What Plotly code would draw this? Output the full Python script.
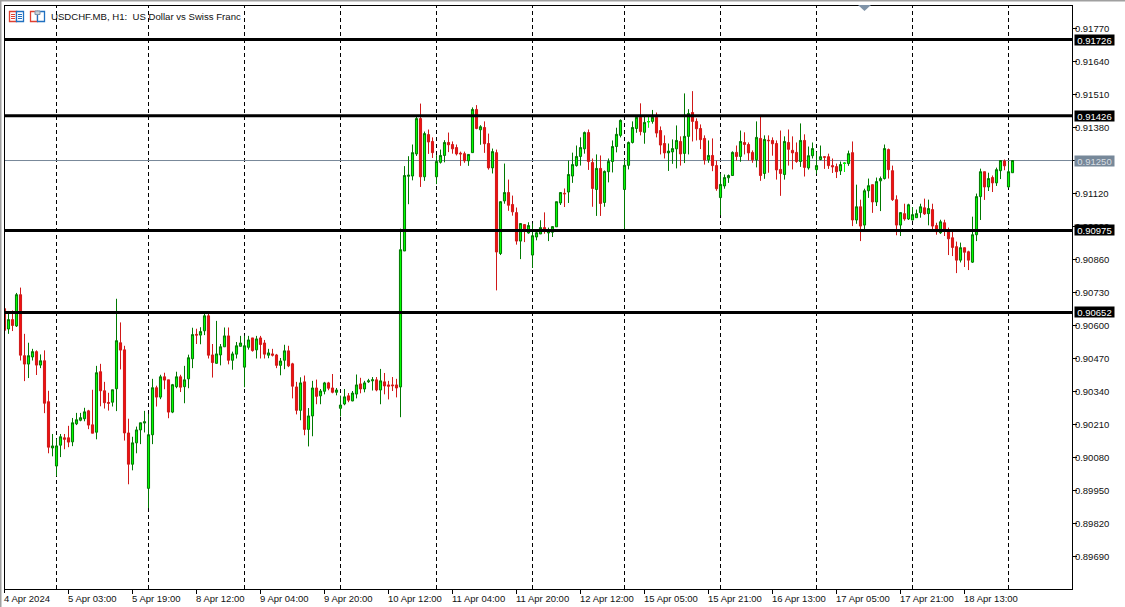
import plotly.graph_objects as go

# Prices are stored in points (1 point = 0.00001)
opens = [
90667,90587,90624,90599,90722,90482,90449,90477,90498,90445,
90462,90301,90119,90048,90130,90159,90159,90143,90214,90228,
90234,90265,90210,90181,90419,90344,90298,90299,90352,90533,
90505,90178,90055,90139,90190,90217,89960,90171,90356,90319,
90399,90387,90260,90360,90399,90360,90391,90470,90566,90563,
90580,90639,90485,90452,90485,90517,90560,90464,90488,90519,
90437,90515,90552,90505,90552,90532,90484,90489,90485,90444,
90464,90501,90450,90359,90267,90379,90192,90245,90355,90324,
90342,90375,90355,90338,90275,90292,90324,90304,90331,90371,
90351,90379,90383,90387,90347,90379,90367,90367,90367,90359,
90894,91188,91189,91276,91415,91186,91352,91325,91186,91243,
91270,91321,91313,91301,91279,91277,91249,91281,91451,91371,
91380,91317,91221,91281,90884,91091,91124,91077,91045,90933,
90998,90965,90878,90949,90961,90986,90965,90968,90989,91083,
91121,91126,91189,91230,91266,91296,91360,91242,91136,91219,
91085,91206,91246,91305,91349,91136,91231,91321,91376,91420,
91361,91403,91404,91420,91368,91317,91280,91284,91296,91325,
91278,91345,91439,91404,91376,91337,91253,91270,91230,91104,
91150,91182,91191,91282,91266,91321,91313,91282,91253,91337,
91199,91330,91329,91317,91215,91195,91321,91290,91282,91246,
91329,91221,91269,91214,91254,91265,91265,91230,91226,91209,
91239,91238,91281,91016,91068,90996,91131,91155,91087,91170,
91179,91293,91210,91096,90996,91041,91020,91016,91025,91045,
91064,91041,91057,90994,90966,91005,90970,90946,90911,90858,
90907,90891,90850,90958,91108,91206,91146,91183,91162,91210,
91248,91146,91202]
highs = [
90667,90658,90660,90729,90750,90568,90533,90509,90503,90487,
90503,90344,90174,90155,90174,90174,90206,90237,90257,90257,
90277,90269,90348,90442,90450,90379,90336,90348,90706,90613,
90521,90234,90163,90203,90218,90265,90253,90391,90364,90407,
90415,90387,90371,90419,90407,90442,90486,90592,90588,90594,
90647,90647,90528,90619,90528,90593,90593,90498,90536,90560,
90561,90560,90552,90560,90560,90544,90509,90509,90489,90473,
90525,90521,90454,90379,90397,90404,90276,90383,90388,90351,
90379,90379,90410,90355,90325,90351,90335,90343,90408,90395,
90383,90391,90398,90398,90430,90414,90383,90398,90391,90982,
91228,91267,91313,91422,91474,91364,91372,91341,91271,91293,
91330,91360,91325,91313,91285,91285,91275,91459,91468,91389,
91404,91356,91297,91293,91090,91238,91175,91112,91065,91002,
91000,91007,91002,90975,91015,91046,90986,90991,91088,91124,
91140,91250,91281,91309,91341,91364,91372,91258,91274,91270,
91211,91258,91329,91379,91412,91250,91325,91404,91429,91475,
91424,91420,91449,91439,91384,91349,91317,91333,91388,91345,
91514,91452,91523,91416,91392,91349,91329,91337,91250,91199,
91195,91195,91286,91309,91368,91361,91321,91290,91404,91422,
91349,91349,91341,91329,91368,91345,91372,91345,91321,91396,
91353,91305,91321,91284,91309,91265,91277,91258,91238,91246,
91242,91289,91325,91155,91096,91139,91179,91155,91183,91187,
91313,91297,91230,91113,91045,91080,91080,91067,91057,91080,
91100,91096,91080,91005,91017,91017,90986,90970,90931,90927,
90907,90895,91029,91120,91218,91206,91202,91191,91222,91250,
91254,91246,91250]
lows = [
90582,90568,90579,90595,90463,90382,90394,90463,90406,90433,
90256,90098,90086,90008,90083,90114,90122,90126,90209,90224,
90224,90193,90177,90153,90283,90274,90266,90282,90264,90428,
90148,89976,90031,90098,90134,90180,89882,90134,90282,90311,
90350,90236,90256,90354,90339,90295,90354,90433,90528,90527,
90563,90471,90396,90451,90444,90517,90448,90427,90471,90519,
90358,90506,90498,90471,90471,90471,90472,90479,90433,90405,
90429,90437,90314,90251,90228,90169,90125,90165,90291,90291,
90330,90346,90334,90326,90243,90287,90299,90303,90314,90334,
90338,90375,90345,90342,90291,90330,90310,90343,90318,90240,
90894,91078,91172,91268,91146,91170,91276,91260,91157,91238,
91243,91283,91277,91270,91229,91241,91229,91281,91373,91312,
91280,91214,91199,90739,90878,91080,91052,91033,90919,90862,
90929,90962,90827,90936,90961,90962,90933,90949,90989,91075,
91067,91083,91162,91226,91230,91277,91213,91068,91032,91032,
91068,91164,91203,91282,91341,90982,91215,91317,91359,91349,
91316,91380,91395,91341,91274,91258,91209,91237,91219,91230,
91240,91274,91325,91329,91295,91234,91241,91208,91131,91035,
91139,91162,91191,91250,91245,91274,91250,91241,91223,91170,
91178,91202,91269,91175,91111,91175,91230,91215,91241,91225,
91187,91214,91258,91198,91251,91217,91217,91201,91181,91193,
91205,91229,90992,91001,90933,90978,91103,91044,91071,91051,
91175,91179,91091,90956,90953,91013,91016,91015,91025,91025,
91036,90995,90978,90958,90961,90953,90878,90874,90807,90849,
90831,90819,90847,90933,91016,91095,91130,91126,91150,91177,
91212,91143,91201]
closes = [
90582,90624,90601,90722,90484,90449,90482,90498,90445,90462,
90295,90122,90127,90127,90163,90153,90142,90218,90230,90238,
90261,90209,90177,90415,90344,90297,90295,90348,90541,90504,
90178,90055,90139,90190,90218,90222,90171,90356,90319,90399,
90386,90260,90368,90399,90358,90387,90474,90565,90563,90577,
90639,90484,90455,90489,90517,90560,90464,90489,90521,90532,
90521,90544,90502,90548,90526,90488,90493,90484,90444,90461,
90501,90442,90362,90267,90375,90192,90245,90355,90322,90343,
90375,90354,90338,90347,90288,90320,90307,90335,90367,90351,
90375,90383,90387,90347,90383,90363,90362,90364,90355,90899,
91191,91192,91281,91415,91186,91356,91323,91281,91246,91270,
91321,91312,91296,91276,91276,91249,91274,91451,91376,91383,
91316,91221,91285,90890,91088,91124,91074,91048,90933,91002,
90975,90994,90954,90966,90986,90974,90974,90990,91088,91124,
91119,91195,91234,91266,91301,91360,91246,91140,91219,91081,
91207,91246,91305,91353,91408,91231,91321,91380,91420,91364,
91400,91403,91420,91358,91311,91280,91287,91297,91329,91276,
91345,91435,91404,91375,91332,91252,91270,91230,91139,91156,
91183,91191,91282,91266,91325,91313,91280,91253,91341,91191,
91333,91328,91316,91213,91199,91325,91294,91280,91246,91329,
91223,91269,91297,91230,91265,91263,91230,91225,91206,91234,
91239,91277,91016,91068,90992,91131,91151,91087,91167,91179,
91297,91214,91096,90996,91045,91020,91076,91037,91041,91068,
91040,91061,90992,90970,91009,90974,90942,90908,90858,90907,
90889,90858,90958,91108,91206,91146,91179,91162,91214,91250,
91229,91206,91250]

flat_bars = [161, 210]
level_prices = [0.91726, 0.91426, 0.90975, 0.90652]
last_price = 0.91250
price_ticks = [0.91770,0.91640,0.91510,0.91380,0.91250,0.91120,0.90990,0.90860,
               0.90730,0.90600,0.90470,0.90340,0.90210,0.90080,0.89950,0.89820,0.89690]
time_tick_bars = [0,16,32,48,64,80,96,112,128,144,160,176,192,208,224,240]
time_tick_labels = ["4 Apr 2024","5 Apr 03:00","5 Apr 19:00","8 Apr 12:00","9 Apr 04:00",
                    "9 Apr 20:00","10 Apr 12:00","11 Apr 04:00","11 Apr 20:00","12 Apr 12:00",
                    "15 Apr 05:00","15 Apr 21:00","16 Apr 13:00","17 Apr 05:00","17 Apr 21:00",
                    "18 Apr 13:00"]
separator_bars = [13,36,60,84,108,132,155,179,203,227,251]
title_text = "USDCHF.MB, H1:  US Dollar vs Swiss Franc"

# geometry of the window
W, H = 1125, 607
L, R, T, B = 5, 1072, 6, 589
X_RANGE = [0.125, 266.875]
FONT = "Liberation Sans"
def px(x): return (x - L) / (R - L)
def py(y): return 1 - (y - T) / (B - T)
def bar_to_paper(b): return (b - X_RANGE[0]) / (X_RANGE[1] - X_RANGE[0])

bars = list(range(len(opens)))
to_price = lambda vals: [v / 100000 for v in vals]

fig = go.Figure()
fig.add_trace(go.Candlestick(
    x=bars, open=to_price(opens), high=to_price(highs), low=to_price(lows), close=to_price(closes),
    increasing=dict(line=dict(color="#007800", width=1), fillcolor="#00ff00"),
    decreasing=dict(line=dict(color="#d01818", width=1), fillcolor="#f01010"),
    whiskerwidth=0, hoverinfo="skip", showlegend=False))
fig.add_trace(go.Candlestick(
    x=flat_bars,
    open=[opens[i] / 100000 for i in flat_bars], high=[highs[i] / 100000 for i in flat_bars],
    low=[lows[i] / 100000 for i in flat_bars], close=[closes[i] / 100000 for i in flat_bars],
    increasing=dict(line=dict(color="#00ff00", width=1), fillcolor="#00ff00"),
    decreasing=dict(line=dict(color="#00ff00", width=1), fillcolor="#00ff00"),
    whiskerwidth=0, hoverinfo="skip", showlegend=False))

shapes = []
for b in separator_bars:
    shapes.append(dict(type="line", xref="x", yref="paper", x0=b, x1=b, y0=0, y1=1, layer="below",
                       line=dict(color="black", width=1, dash="4px,3px")))
shapes.append(dict(type="line", xref="paper", yref="y", x0=0, x1=1, y0=last_price, y1=last_price,
                   layer="below", line=dict(color="#778899", width=1)))
for p in level_prices:
    shapes.append(dict(type="line", xref="paper", yref="y", x0=0, x1=1, y0=p, y1=p,
                       line=dict(color="black", width=3)))
# window edge, first axis tick and chart-shift marker
shapes.append(dict(type="rect", xref="paper", yref="paper", x0=px(0), x1=px(1.5), y0=py(607), y1=py(0),
                   fillcolor="#a0a0a0", line_width=0))
shapes.append(dict(type="rect", xref="paper", yref="paper", x0=px(0), x1=px(1125), y0=py(1.5), y1=py(0),
                   fillcolor="#a0a0a0", line_width=0))
shapes.append(dict(type="line", xref="paper", yref="paper", x0=px(4.5), x1=px(4.5), y0=py(589), y1=py(593),
                   line=dict(color="black", width=1)))
shapes.append(dict(type="path", xref="paper", yref="paper",
                   path=f"M {px(858)} {py(5)} L {px(871)} {py(5)} L {px(864.5)} {py(11)} Z",
                   fillcolor="#7f93a8", line_width=0))
# toolbar icons
for x0, x1, y0, y1, c in [(9.5, 16.5, 11.5, 21.5, "#e04030"), (16.5, 23.5, 11.5, 21.5, "#2070c0"),
                          (30.5, 37.5, 11.5, 21.5, "#e04030"), (37.5, 44.5, 11.5, 21.5, "#2070c0")]:
    shapes.append(dict(type="rect", xref="paper", yref="paper", x0=px(x0), x1=px(x1), y0=py(y1), y1=py(y0),
                       fillcolor="white", line=dict(color=c, width=1.3)))
for x0, x1, yy, c in [(11, 15, 14.5, "#e04030"), (11, 15, 16.5, "#e04030"), (11, 15, 18.5, "#e04030"),
                      (18, 22, 14.5, "#2070c0"), (18, 22, 16.5, "#2070c0"), (18, 22, 18.5, "#2070c0")]:
    shapes.append(dict(type="line", xref="paper", yref="paper", x0=px(x0), x1=px(x1), y0=py(yy), y1=py(yy),
                       line=dict(color=c, width=1)))
shapes.append(dict(type="rect", xref="paper", yref="paper", x0=px(35), x1=px(40), y0=py(14.5), y1=py(11),
                   fillcolor="#c8d0d8", line=dict(color="#7f93a8", width=1)))

annotations = [dict(text=title_text, xref="paper", yref="paper", x=px(50), y=py(16.5), xanchor="left",
                    yanchor="middle", showarrow=False, borderpad=0,
                    font=dict(family=FONT, size=9.6, color="#111111"))]
for b, lab in zip(time_tick_bars, time_tick_labels):
    annotations.append(dict(text=lab, xref="paper", yref="paper", x=bar_to_paper(b), y=py(598), xanchor="left",
                            yanchor="middle", xshift=-1.5, showarrow=False, borderpad=0,
                            font=dict(family=FONT, size=9.5, color="#111111")))
for p in level_prices + [last_price]:
    is_last = p == last_price
    annotations.append(dict(text=f"{p:.5f}", xref="paper", yref="y", x=px(1074), y=p, xanchor="left",
                            yanchor="middle", showarrow=False, width=39, height=10, align="center", borderpad=0,
                            bgcolor="#778899" if is_last else "black",
                            font=dict(family=FONT, size=9.5, color="#d8dde2" if is_last else "white")))

fig.update_layout(
    width=W, height=H, autosize=False,
    margin=dict(l=L, r=W - R, t=T, b=H - B, pad=0),
    paper_bgcolor="white", plot_bgcolor="white",
    boxgap=0.25, showlegend=False, dragmode=False,
    shapes=shapes, annotations=annotations,
    xaxis=dict(type="linear", range=X_RANGE, rangeslider=dict(visible=False), showgrid=False, zeroline=False,
               showline=True, mirror=True, linecolor="black", linewidth=1,
               tickmode="array", tickvals=time_tick_bars, ticktext=[""] * len(time_tick_bars),
               ticks="outside", ticklen=4, tickwidth=1, tickcolor="black"),
    yaxis=dict(side="right", range=[0.89564, 0.91858], showgrid=False, zeroline=False,
               showline=True, mirror=True, linecolor="black", linewidth=1,
               tickmode="array", tickvals=price_ticks,
               ticktext=["" if v == last_price else f"{v:.5f}" for v in price_ticks],
               ticks="outside", ticklen=4, tickwidth=1, tickcolor="black", ticklabelstandoff=-4,
               tickfont=dict(family=FONT, size=9.5, color="#111111")),
)

fig.write_html("out.html", config=dict(displayModeBar=False, staticPlot=True),
               post_script="document.body.style.margin='0';")
